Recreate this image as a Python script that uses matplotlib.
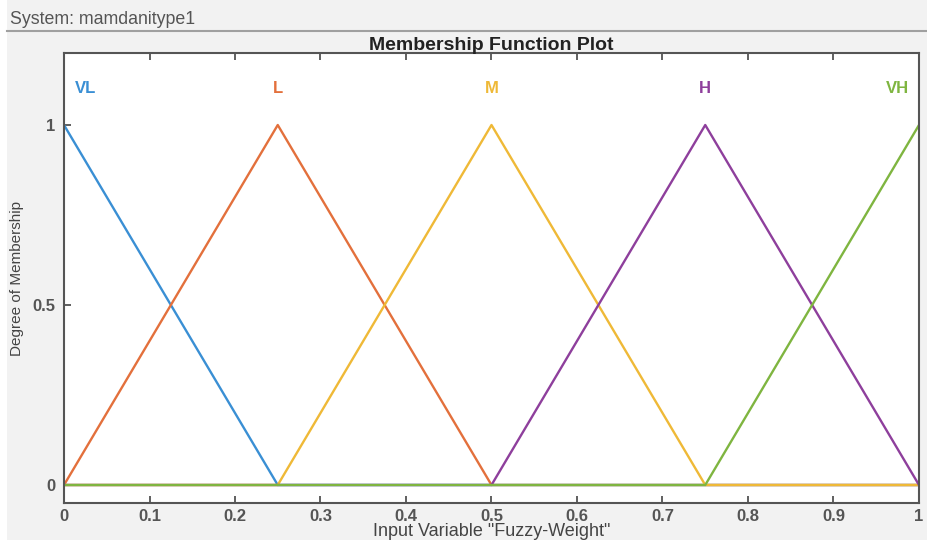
import numpy as np
import matplotlib
matplotlib.use("Agg")
import matplotlib.pyplot as plt
from matplotlib.lines import Line2D

# membership functions sampled at the breakpoints
x_pts = [0, 0.25, 0.5, 0.75, 1.0]
mf_names = ["VL", "L", "M", "H", "VH"]
mf_vals = [
    [1, 0, 0, 0, 0],
    [0, 1, 0, 0, 0],
    [0, 0, 1, 0, 0],
    [0, 0, 0, 1, 0],
    [0, 0, 0, 0, 1],
]
label_x = [0.025, 0.25, 0.5, 0.75, 0.975]
label_y = 1.1
colors = ["#3a8fd4", "#e3703c", "#efb937", "#8e3f9c", "#7fb540"]

xticks = [0, 0.1, 0.2, 0.3, 0.4, 0.5, 0.6, 0.7, 0.8, 0.9, 1]
xtick_labels = ["0", "0.1", "0.2", "0.3", "0.4", "0.5", "0.6", "0.7", "0.8", "0.9", "1"]
yticks = [0, 0.5, 1]
ytick_labels = ["0", "0.5", "1"]

plt.rcParams['font.family'] = ['Liberation Sans', 'DejaVu Sans']

W, H = 928, 540
fig = plt.figure(figsize=(W / 100, H / 100), dpi=100, facecolor="#f2f2f2")

# white strip on the left and header area
fig.patches.append(plt.Rectangle((0, 0), 7 / W, 1, transform=fig.transFigure,
                                 facecolor="white", edgecolor="none", zorder=0))
fig.text(10 / W, 1 - 19 / H, "System: mamdanitype1", fontsize=12.8, color="#555555",
         va="center", ha="left")
fig.add_artist(Line2D([7 / W, 1], [1 - 31 / H, 1 - 31 / H], color="#a0a0a0",
                      linewidth=1.5, transform=fig.transFigure))

ax = fig.add_axes([64 / W, 1 - 503 / H, (919 - 64) / W, (503 - 53) / H])
ax.set_facecolor("white")

# natural order: later functions drawn on top (MATLAB style)
for i in range(len(mf_names)):
    ax.plot(x_pts, mf_vals[i], color=colors[i], linewidth=1.7)
for i in range(len(mf_names)):
    ax.text(label_x[i], label_y, mf_names[i], color=colors[i], fontsize=12,
            fontweight="bold", ha="center", va="center")

ax.set_xlim(0, 1)
ax.set_ylim(-0.05, 1.2)
ax.set_xticks(xticks)
ax.set_xticklabels(xtick_labels)
ax.set_yticks(yticks)
ax.set_yticklabels(ytick_labels)
ax.tick_params(direction="in", top=True, length=5, width=1.2, colors="#444444",
               labelsize=12, pad=6)
ax.tick_params(axis="x", pad=4)
for lab in ax.get_xticklabels() + ax.get_yticklabels():
    lab.set_fontweight("bold")
    lab.set_color("#555555")
for s in ax.spines.values():
    s.set_color("#555555")
    s.set_linewidth(1.5)

ax.set_title("Membership Function Plot", fontsize=14, fontweight="bold",
             color="#222222", pad=2)
ax.set_xlabel('Input Variable "Fuzzy-Weight"', fontsize=13, color="#444444")
ax.xaxis.set_label_coords(0.5, (503 - 523) / 450)
ax.set_ylabel("Degree of Membership", fontsize=11, color="#444444", labelpad=6)

fig.savefig("out.png", dpi=100, facecolor=fig.get_facecolor())
